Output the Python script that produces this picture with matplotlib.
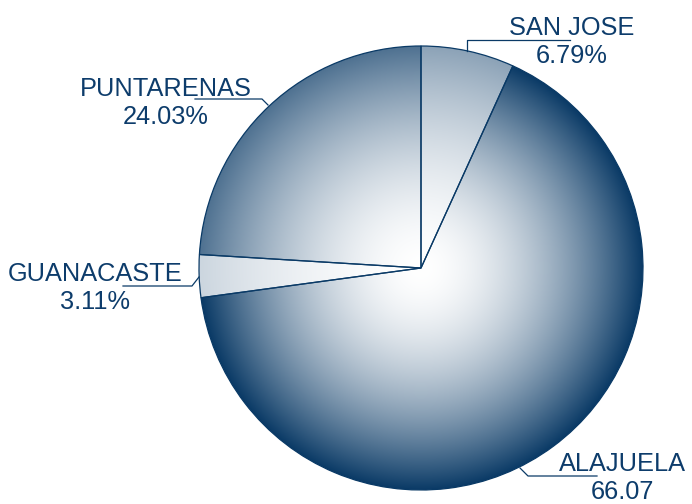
import numpy as np
import matplotlib
matplotlib.use("Agg")
import matplotlib.pyplot as plt
from matplotlib.colors import to_rgb

# Data
categories = ["SAN JOSE", "ALAJUELA", "GUANACASTE", "PUNTARENAS"]
values = [6.79, 66.07, 3.11, 24.03]
label_texts = ["SAN JOSE\n6.79%", "ALAJUELA\n66.07", "GUANACASTE\n3.11%", "PUNTARENAS\n24.03%"]

# Styles
shade = [0.47, 1.0, 0.21, 0.72]
base = np.array(to_rgb("#0a3a66"))
txt_color = "#0d3c6b"

W, H = 692, 504
fig = plt.figure(figsize=(W / 100, H / 100), dpi=100)
ax = fig.add_axes([0, 0, 1, 1])

cx, cy, R = 421, H - 268, 222
wedges, _ = ax.pie(values, startangle=90, counterclock=False, center=(cx, cy),
                   radius=R, frame=True,
                   wedgeprops=dict(facecolor="none", edgecolor="#0a3a66", linewidth=0.9, zorder=3))
ax.set_xlim(0, W)
ax.set_ylim(0, H)
ax.set_aspect("equal")
ax.axis("off")

n = 600
xs = np.linspace(-1, 1, n)
X, Y = np.meshgrid(xs, xs)
T = np.clip(np.sqrt(X ** 2 + Y ** 2), 0, 1)
F = T ** 1.75
for w, s in zip(wedges, shade):
    a = (s * F)[..., None]
    img = (1 - a) * np.ones(3) + a * base
    im = ax.imshow(img, extent=(cx - R, cx + R, cy - R, cy + R), origin="lower",
                   zorder=1, interpolation="bilinear")
    im.set_clip_path(w)
    w.set_zorder(3)

# labels: (anchor, elbow, end) in pixel coords, text center
layout = [
    ((467, 51), (467, 40), (570, 40), (572, 42)),
    ((520, 468), (528, 476), (597, 476), (622, 478)),
    ((199, 277), (192, 286), (123, 286), (95, 288)),
    ((268, 105), (262, 99), (195, 99), (166, 103)),
]
for (p0, p1, p2, tp), txt in zip(layout, label_texts):
    xsP = [p0[0], p1[0], p2[0]]
    ysP = [H - p0[1], H - p1[1], H - p2[1]]
    ax.plot(xsP, ysP, color="#0a3a66", lw=0.9, zorder=4)
    ax.text(tp[0], H - tp[1], txt, ha="center", va="center", color=txt_color,
            fontsize=18.3, family="Liberation Sans", linespacing=1.18, zorder=5)

fig.savefig("out.png", dpi=100)
